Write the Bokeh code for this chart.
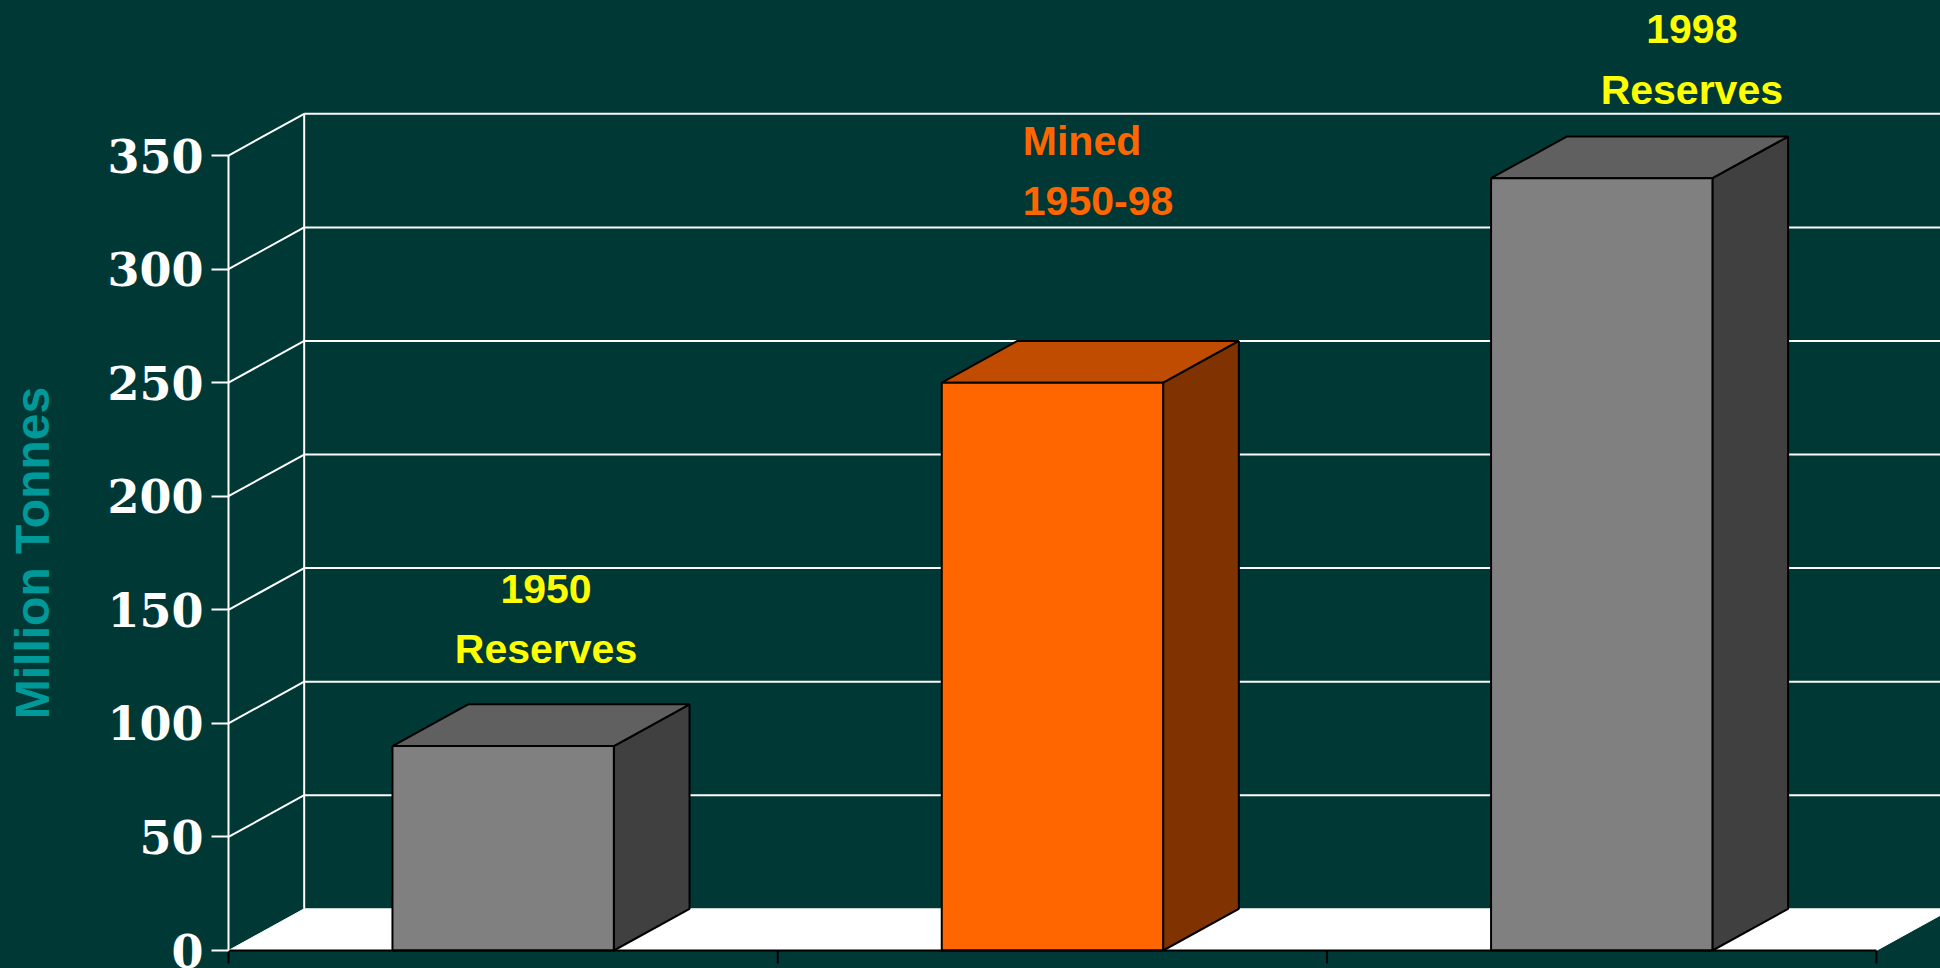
import math
from bokeh.plotting import figure
from bokeh.models import LinearAxis, FixedTicker, Range1d
from bokeh.core.properties import value
from bokeh.embed import file_html
from bokeh.resources import INLINE

# ---- data ----
categories = ["1950 Reserves", "Mined 1950-98", "1998 Reserves"]
tonnes = [90, 250, 340]
label_line1 = ["1950", "Mined", "1998"]
label_line2 = ["Reserves", "1950-98", "Reserves"]
y_ticks = [0, 50, 100, 150, 200, 250, 300, 350]
y_title = "Million Tonnes"

# ---- styles ----
BG = "#003835"
face_colors = ["#808080", "#FF6600", "#808080"]
top_colors = ["#606060", "#BF4C00", "#606060"]
side_colors = ["#404040", "#803300", "#404040"]
label_colors = ["#FFFF00", "#FF6600", "#FFFF00"]
label_align = ["center", "left", "center"]
label_xoff = [0.078, -0.054, 0.164]      # category units
label_yoff1 = [69.0, 106.4, 65.8]        # above bar top, value units
label_yoff2 = [42.9, 80.0, 39.0]

BAR_W = 0.403     # fraction of category
DX = 0.1378       # 3-D depth in category units
DY = 18.36        # 3-D depth in value units

W, H = 1940, 968
AXIS_PX = 228          # screen x of the value axis
PAD_BOTTOM_PX = 18
TITLE_PX = 31.5        # screen x of the axis title centre
PX_PER_CAT = 549.3
PX_PER_UNIT = 2.2714
x_axis_pos = -0.5
x_start = x_axis_pos - AXIS_PX / PX_PER_CAT
x_end = x_start + W / PX_PER_CAT
y_start = -PAD_BOTTOM_PX / PX_PER_UNIT
y_end = (H - PAD_BOTTOM_PX) / PX_PER_UNIT

p = figure(width=W, height=H, output_backend="svg", toolbar_location=None,
           x_range=Range1d(x_start, x_end), y_range=Range1d(y_start, y_end),
           x_axis_type=None, y_axis_type=None,
           min_border_left=0, min_border_right=0, min_border_top=0,
           min_border_bottom=0)
p.background_fill_color = BG
p.border_fill_color = BG
p.outline_line_color = None
p.grid.visible = False

n = len(categories)
top_tick = y_ticks[-1]
x_wall = x_axis_pos + DX
x_last = x_axis_pos + n

# back wall grid
grid_vals = y_ticks[1:]
p.segment(x0=[x_wall] * len(grid_vals), y0=[v + DY for v in grid_vals],
          x1=[x_end] * len(grid_vals), y1=[v + DY for v in grid_vals],
          line_color="white", line_width=2)
p.segment(x0=[x_axis_pos] * len(grid_vals), y0=grid_vals,
          x1=[x_wall] * len(grid_vals), y1=[v + DY for v in grid_vals],
          line_color="white", line_width=2)
p.segment(x0=[x_wall], y0=[DY], x1=[x_wall], y1=[top_tick + DY],
          line_color="white", line_width=2)

# floor
p.patch(x=[x_axis_pos, x_last, x_last + DX, x_wall],
        y=[0, 0, DY, DY], fill_color="white", line_color="white", line_width=1)

# bars
side_xs, side_ys, top_xs, top_ys, front_xs, front_ys = [], [], [], [], [], []
for i, v in enumerate(tonnes):
    l = i - BAR_W / 2
    r = i + BAR_W / 2
    side_xs.append([r, r + DX, r + DX, r])
    side_ys.append([0, DY, v + DY, v])
    top_xs.append([l, r, r + DX, l + DX])
    top_ys.append([v, v, v + DY, v + DY])
    front_xs.append([l, r, r, l])
    front_ys.append([0, 0, v, v])
p.patches(xs=side_xs, ys=side_ys, fill_color=side_colors, line_color="black", line_width=2)
p.patches(xs=top_xs, ys=top_ys, fill_color=top_colors, line_color="black", line_width=2)
p.patches(xs=front_xs, ys=front_ys, fill_color=face_colors, line_color="black", line_width=2)

# category axis line (front floor edge) and boundary ticks
bounds = [x_axis_pos + k for k in range(n + 1)]
p.segment(x0=[x_axis_pos], y0=[0], x1=[x_last], y1=[0], line_color="black", line_width=2)
tick_len = 13 / PX_PER_UNIT
p.segment(x0=bounds, y0=[0] * len(bounds), x1=bounds, y1=[-tick_len] * len(bounds),
          line_color="black", line_width=2)

# bar labels
for i, v in enumerate(tonnes):
    for txt, off in ((label_line1[i], label_yoff1[i]), (label_line2[i], label_yoff2[i])):
        p.text(x=[i + label_xoff[i]], y=[v + off], text=[txt],
               text_font=value("Liberation Sans"), text_font_style="bold",
               text_font_size="41px", text_color=label_colors[i],
               text_align=label_align[i], text_baseline="middle")

# y axis drawn at the left edge of the floor
yax = LinearAxis(ticker=FixedTicker(ticks=y_ticks), bounds=(0, top_tick),
                 fixed_location=x_axis_pos)
yax.axis_line_color = "white"
yax.axis_line_width = 2
yax.major_tick_line_color = "white"
yax.major_tick_line_width = 2
yax.major_tick_out = 17
yax.major_tick_in = 0
yax.minor_tick_line_color = None
yax.major_label_standoff = 8
yax.major_label_text_font = "DejaVu Serif"
yax.major_label_text_font_style = "bold"
yax.major_label_text_font_size = "46px"
yax.major_label_text_color = "white"
p.add_layout(yax, "left")

# y axis title, centred on the axis extent
title_x = x_axis_pos - (AXIS_PX - TITLE_PX) / PX_PER_CAT
p.text(x=[title_x], y=[top_tick / 2], text=[y_title], angle=math.pi / 2,
       text_font=value("Liberation Sans"), text_font_style="bold",
       text_font_size="48px", text_color="#009999",
       text_align="center", text_baseline="middle")

html = file_html(p, INLINE)
html = html.replace("<head>", "<head><style>body{background:%s;}</style>" % BG, 1)
open("out.html", "w").write(html)
